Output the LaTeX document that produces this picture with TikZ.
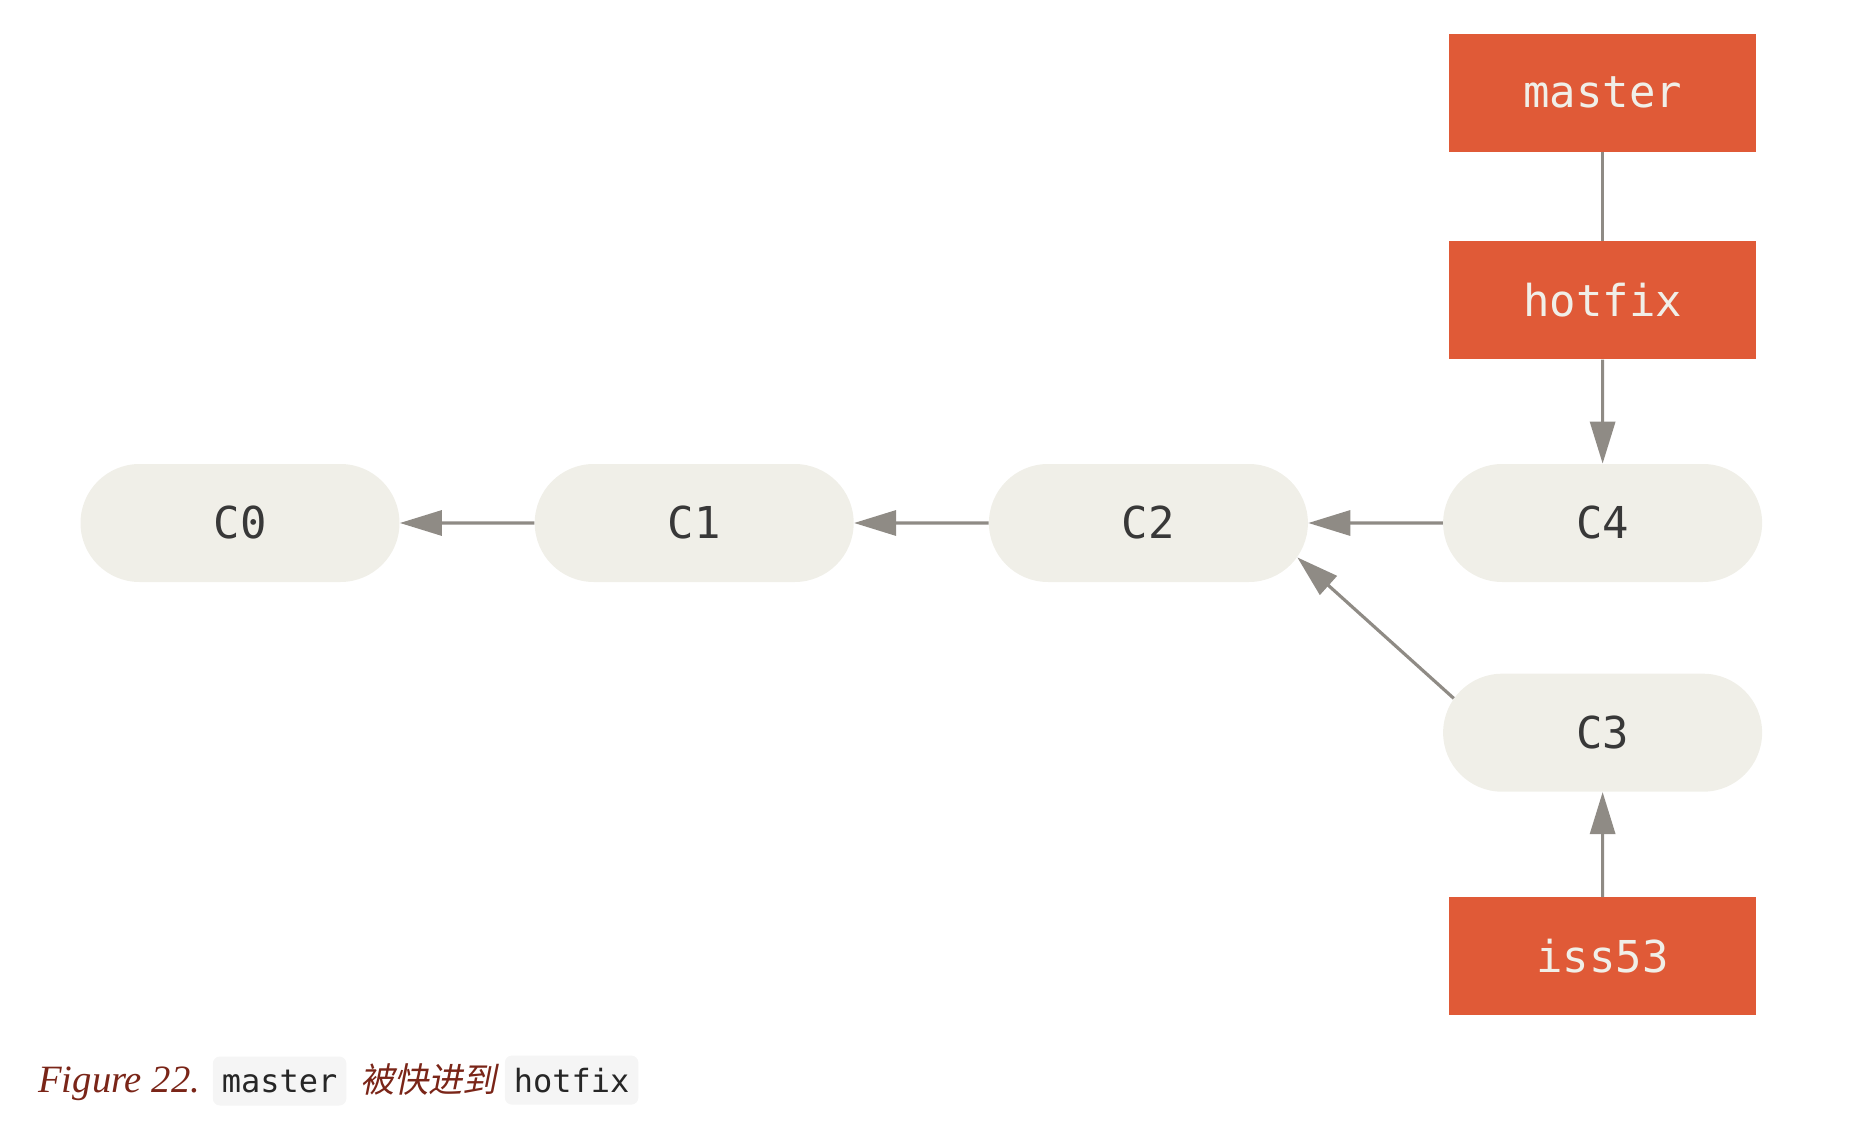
\documentclass[tikz,border=0pt]{standalone}
\usepackage{fontspec}
\setmainfont{Liberation Serif}
\setmonofont{DejaVu Sans Mono}
\newfontfamily\cjkfont[FakeSlant=0.2]{Noto Sans CJK SC}
\usepackage{xcolor}
\usetikzlibrary{positioning,arrows.meta,shapes.misc}

\definecolor{commitfill}{HTML}{F0EFE8}
\definecolor{branchfill}{HTML}{E05A37}
\definecolor{linkgray}{HTML}{8F8B85}
\definecolor{captionred}{HTML}{7A2518}
\definecolor{chipfill}{HTML}{F5F5F5}

\begin{document}
\begin{tikzpicture}[
    every node/.style={font=\ttfamily\fontsize{25}{30}\selectfont},
    commit/.style={
        rounded rectangle, fill=commitfill, text=black!78,
        minimum width=6.38cm, minimum height=2.36cm, inner sep=0pt
    },
    branch/.style={
        rectangle, fill=branchfill, text=commitfill,
        minimum width=6.14cm, minimum height=2.36cm, inner sep=0pt
    },
    link/.style={draw=linkgray, line width=1.8pt},
    parent/.style={link, -{Triangle[length=0.84cm,width=0.5cm]}},
    capt/.style={inner sep=0pt, text=captionred},
    chip/.style={
        fill=chipfill, rounded corners=4pt, text=black!85,
        inner xsep=0.18cm, inner ysep=0pt, minimum height=0.98cm,
        font=\ttfamily\fontsize{18.2}{22}\selectfont
    },
    node distance=2.69cm
]
\useasboundingbox (0,0) rectangle (37.04,-22.44);

% --- Commits, oldest on the left
\node[commit] (C0) at (4.80,-10.46) {C0};
\node[commit, right=of C0] (C1) {C1};
\node[commit, right=of C1] (C2) {C2};
\node[commit, right=of C2] (C4) {C4};
\node[commit, below=1.82cm of C4] (C3) {C3};

% --- Branch pointers
\node[branch, above=2.08cm of C4] (hotfix) {hotfix};
\node[branch, above=1.78cm of hotfix] (master) {master};
\node[branch, below=2.1cm of C3] (iss53) {iss53};

% --- Parent links
\draw[parent] (C1) -- (C0);
\draw[parent] (C2) -- (C1);
\draw[parent] (C4) -- (C2);
\draw[parent] (C3.167) -- (C2.-13);

% --- Branch links
\draw[link] (master) -- (hotfix);
\draw[parent] (hotfix) -- (C4);
\draw[parent] (iss53) -- (C3);

% --- Caption
\node[capt, anchor=base west, font=\rmfamily\itshape\fontsize{22}{26}\selectfont]
    (figlabel) at (0.76,-21.84) {Figure 22.};
\node[chip, base right=0.24cm of figlabel] (codemaster) {master};
\node[capt, base right=0.26cm of codemaster, font=\cjkfont\fontsize{19.5}{24}\selectfont]
    (captverb) {被快进到};
\node[chip, base right=0.14cm of captverb] (codehotfix) {hotfix};
\end{tikzpicture}
\end{document}
